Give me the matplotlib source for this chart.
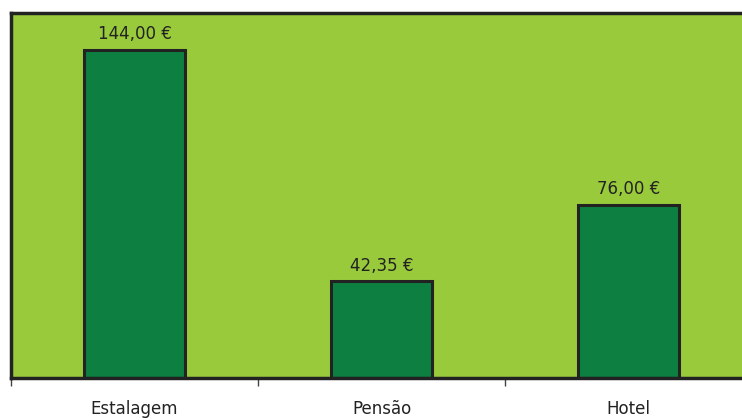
import matplotlib.pyplot as plt

categories = ['Estalagem', 'Pensão', 'Hotel']
prices = [144.00, 42.35, 76.00]
labels = ['144,00 €', '42,35 €', '76,00 €']

fig = plt.figure(figsize=(7.42, 4.2), dpi=100)
ax = fig.add_axes([11 / 742, 0.1, 741 / 742, 0.869])
ax.set_facecolor('#99CA3C')

x = range(len(categories))
bars = ax.bar(x, prices, width=0.41, color='#0D7F40', edgecolor='#222222', linewidth=2.2)
for b, lab in zip(bars, labels):
    ax.text(b.get_x() + b.get_width() / 2, b.get_height() + 3, lab,
            ha='center', va='bottom', fontsize=12, color='#222222')

ax.set_xlim(-0.5, 2.5)
ax.set_ylim(0, 160)
ax.set_yticks([])
ax.set_xticks([-0.5, 0.5, 1.5, 2.5])
ax.set_xticklabels([])
ax.set_xticks(list(x), minor=True)
ax.set_xticklabels(categories, minor=True, fontsize=12, color='#222222')
ax.tick_params(axis='x', which='major', length=6, width=1, color='#444444')
ax.tick_params(axis='x', which='minor', length=0, pad=16)
for s in ax.spines.values():
    s.set_linewidth(2.5)
    s.set_color('#222222')

fig.savefig('out.png', dpi=100)
